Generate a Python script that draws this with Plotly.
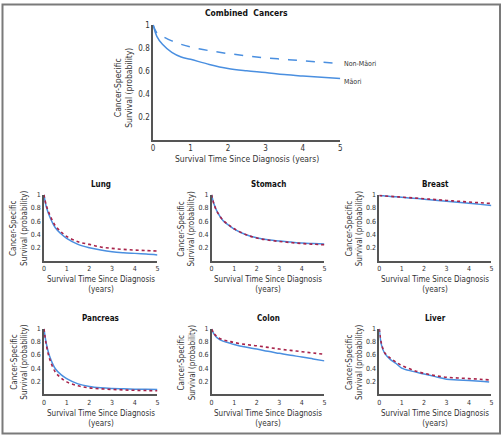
import plotly.graph_objects as go

# ---------------- data ----------------
time_combined = [0, 0.1, 0.25, 0.5, 0.75, 1, 1.5, 2, 2.5, 3, 3.5, 4, 4.5, 5]
combined_maori = [1.0, 0.90, 0.83, 0.76, 0.72, 0.70, 0.655, 0.62, 0.60, 0.585, 0.567, 0.554, 0.543, 0.533]
combined_nonmaori = [1.0, 0.93, 0.90, 0.86, 0.83, 0.807, 0.775, 0.75, 0.73, 0.713, 0.70, 0.687, 0.675, 0.664]

time_site = [0, 0.1, 0.25, 0.5, 0.75, 1, 1.5, 2, 2.5, 3, 3.5, 4, 4.5, 5]
lung_maori = [1.0, 0.82, 0.67, 0.50, 0.41, 0.34, 0.25, 0.20, 0.165, 0.14, 0.125, 0.115, 0.105, 0.092]
lung_nonmaori = [1.0, 0.84, 0.70, 0.53, 0.44, 0.37, 0.29, 0.25, 0.21, 0.19, 0.175, 0.165, 0.157, 0.15]
stomach_maori = [1.0, 0.86, 0.74, 0.61, 0.54, 0.48, 0.40, 0.35, 0.32, 0.30, 0.285, 0.27, 0.262, 0.255]
stomach_nonmaori = [1.0, 0.86, 0.74, 0.615, 0.545, 0.485, 0.40, 0.345, 0.315, 0.295, 0.278, 0.263, 0.253, 0.245]
breast_maori = [0.985, 0.983, 0.979, 0.972, 0.965, 0.958, 0.945, 0.93, 0.915, 0.90, 0.884, 0.868, 0.852, 0.836]
breast_nonmaori = [0.985, 0.983, 0.979, 0.973, 0.967, 0.961, 0.949, 0.937, 0.924, 0.911, 0.899, 0.887, 0.876, 0.866]
pancreas_maori = [1.0, 0.78, 0.58, 0.39, 0.30, 0.24, 0.16, 0.12, 0.10, 0.09, 0.085, 0.08, 0.078, 0.076]
pancreas_nonmaori = [1.0, 0.76, 0.54, 0.34, 0.25, 0.19, 0.13, 0.10, 0.085, 0.075, 0.068, 0.062, 0.058, 0.055]
colon_maori = [1.0, 0.92, 0.86, 0.81, 0.785, 0.76, 0.72, 0.69, 0.655, 0.625, 0.595, 0.57, 0.54, 0.51]
colon_nonmaori = [1.0, 0.93, 0.875, 0.83, 0.81, 0.79, 0.76, 0.74, 0.715, 0.69, 0.67, 0.65, 0.63, 0.61]
liver_time = [0, 0.1, 0.25, 0.5, 0.75, 1, 1.5, 2, 2.5, 3, 3.5, 4, 4.5, 4.9]
liver_maori = [1.0, 0.75, 0.62, 0.53, 0.47, 0.40, 0.35, 0.31, 0.27, 0.23, 0.22, 0.21, 0.2, 0.19]
liver_nonmaori = [1.0, 0.77, 0.63, 0.55, 0.49, 0.44, 0.37, 0.32, 0.285, 0.26, 0.25, 0.24, 0.23, 0.22]

site_titles = ["Lung", "Stomach", "Breast", "Pancreas", "Colon", "Liver"]
x_ticks = [0, 1, 2, 3, 4, 5]
y_ticks = [0.2, 0.4, 0.6, 0.8, 1]
y_tick_labels = ["0.2", "0.4", "0.6", "0.8", "1"]
label_maori = "Māori"
label_nonmaori = "Non-Māori"
y_title = "Cancer-Specific<br>Survival (probability)"
x_title_top = "Survival Time Since Diagnosis (years)"
x_title_small = "Survival Time Since Diagnosis<br>(years)"

# ---------------- style ----------------
W, H = 503, 436
FONT = "Liberation Sans Narrow, Arial Narrow, DejaVu Sans Condensed, sans-serif"
BLUE = "#4a8fe0"
RED = "#a8234a"
AXIS = "#555555"
TXT = "#333333"

def px_dom_x(a, b):
    return [a / W, b / W]

def px_dom_y(top, bottom):
    return [(H - bottom) / H, (H - top) / H]

# pixel boxes: (left, right, top(y=1), bottom(y=0))
top_box = (152.3, 341.0, 21.0, 137.0)
cols = [(42.3, 156.7), (211.3, 325.0), (380.3, 493.3)]
rows = [(192.3, 259.4), (327.7, 394.0)]

site_data = [
    (time_site, lung_maori, lung_nonmaori),
    (time_site, stomach_maori, stomach_nonmaori),
    (time_site, breast_maori, breast_nonmaori),
    (time_site, pancreas_maori, pancreas_nonmaori),
    (time_site, colon_maori, colon_nonmaori),
    (liver_time, liver_maori, liver_nonmaori),
]

fig = go.Figure()
annotations = []

def paper_text(xpx, ypx, text, size, color=TXT, angle=0):
    return dict(x=xpx / W, y=(H - ypx) / H, xref="paper", yref="paper",
                xanchor="center", yanchor="middle", text=text, textangle=angle,
                showarrow=False, font=dict(size=size, color=color, family=FONT))

def add_axes(idx, box, tick_size):
    l, r, t, b = box
    xa = "xaxis" if idx == 1 else f"xaxis{idx}"
    ya = "yaxis" if idx == 1 else f"yaxis{idx}"
    fig.update_layout(**{
        xa: dict(domain=px_dom_x(l, r), range=[0, 5], tickvals=x_ticks,
                 showgrid=False, zeroline=False, showline=True, linecolor=AXIS,
                 linewidth=1.5, ticks="", tickfont=dict(size=tick_size, color=TXT, family=FONT),
                 anchor=f"y{idx if idx > 1 else ''}", fixedrange=True),
        ya: dict(domain=px_dom_y(t, b), range=[0, 1], tickvals=y_ticks, ticktext=y_tick_labels,
                 showgrid=False, zeroline=False, showline=True, linecolor=AXIS,
                 linewidth=1.5, ticks="", tickfont=dict(size=tick_size, color=TXT, family=FONT),
                 anchor=f"x{idx if idx > 1 else ''}", fixedrange=True),
    })

# top panel
add_axes(1, top_box, 8)
fig.add_trace(go.Scatter(x=time_combined, y=combined_nonmaori, mode="lines",
                         line=dict(color=BLUE, width=1.5, dash="dash", shape="spline"),
                         xaxis="x", yaxis="y", showlegend=False))
fig.add_trace(go.Scatter(x=time_combined, y=combined_maori, mode="lines",
                         line=dict(color=BLUE, width=1.5, shape="spline"),
                         xaxis="x", yaxis="y", showlegend=False))
annotations.append(dict(x=5, y=combined_nonmaori[-1], xref="x", yref="y", text=label_nonmaori,
                        xanchor="left", yanchor="middle", xshift=2, yshift=-1, showarrow=False,
                        font=dict(size=7, color=TXT, family=FONT)))
annotations.append(dict(x=5, y=combined_maori[-1], xref="x", yref="y", text=label_maori,
                        xanchor="left", yanchor="middle", xshift=2, yshift=-4, showarrow=False,
                        font=dict(size=7, color=TXT, family=FONT)))
l, r, t, b = top_box
annotations.append(paper_text((l + r) / 2, 9.5, "<b>Combined  Cancers</b>", 8.5, "#111111"))
annotations.append(paper_text(122.5, 85, y_title, 8.5, angle=-90))
annotations.append(paper_text((l + r) / 2, 156.5, x_title_top, 8.5))

# small panels
for i, (title, (tx, m, nm)) in enumerate(zip(site_titles, site_data)):
    idx = i + 2
    ri, ci = divmod(i, 3)
    l, r = cols[ci]
    t, b = rows[ri]
    add_axes(idx, (l, r, t, b), 7)
    xs, ys = f"x{idx}", f"y{idx}"
    fig.add_trace(go.Scatter(x=tx, y=m, mode="lines",
                             line=dict(color=BLUE, width=1.5, shape="spline"),
                             xaxis=xs, yaxis=ys, showlegend=False))
    fig.add_trace(go.Scatter(x=tx, y=nm, mode="lines",
                             line=dict(color=RED, width=1.6, dash="dot", shape="spline"),
                             xaxis=xs, yaxis=ys, showlegend=False))
    annotations.append(paper_text((l + r) / 2, t - 10.5, f"<b>{title}</b>", 8, "#111111"))
    annotations.append(paper_text(l - 25, (t + b) / 2 + 1, y_title, 8, angle=-90))
    annotations.append(paper_text((l + r) / 2, b + 24, x_title_small, 8))

fig.update_layout(
    width=W, height=H, margin=dict(l=0, r=0, t=0, b=0),
    paper_bgcolor="white", plot_bgcolor="white",
    annotations=annotations,
    shapes=[dict(type="rect", xref="paper", yref="paper", x0=0.001, y0=0.006, x1=0.998, y1=0.999,
                 line=dict(color="#7a7a7a", width=2))],
)

fig.write_html("out.html", config={"displayModeBar": False},
               post_script="document.body.style.margin='0px';document.body.style.padding='0px';")
